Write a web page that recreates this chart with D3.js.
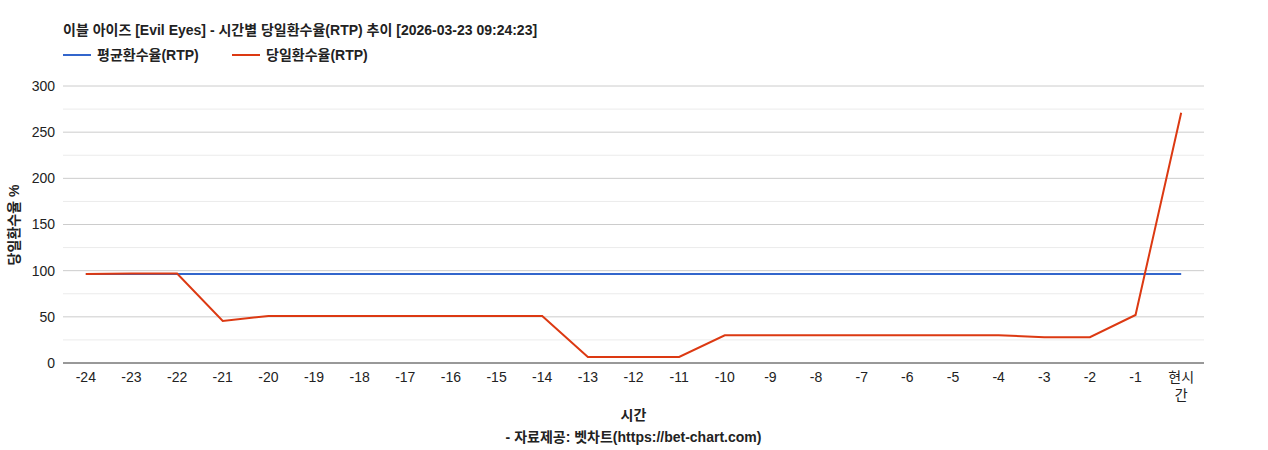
<!DOCTYPE html>
<html>
<head>
<meta charset="utf-8" />
<title>RTP chart</title>
<style>
body { margin: 0; background: #fff; }
text { font-family: Arial, "Liberation Sans", "Noto Sans CJK KR", sans-serif; }
</style>
</head>
<body>
<div id="graph"></div>
<script src="https://d3js.org/d3.v7.min.js"></script>
<script>
var categories = ["-24","-23","-22","-21","-20","-19","-18","-17","-16","-15","-14","-13","-12","-11","-10","-9","-8","-7","-6","-5","-4","-3","-2","-1","현시간"];
var avgRtp = [96.5,96.5,96.5,96.5,96.5,96.5,96.5,96.5,96.5,96.5,96.5,96.5,96.5,96.5,96.5,96.5,96.5,96.5,96.5,96.5,96.5,96.5,96.5,96.5,96.5];
var dayRtp = [96.5,97,97,45.5,51,51,51,51,51,51,51,6.5,6.5,6.5,30,30,30,30,30,30,30,28,28,52,271];
var yTicks = [0,50,100,150,200,250,300];
var seriesNames = ["평균환수율(RTP)", "당일환수율(RTP)"];
var colors = ["#3366cc", "#dc3912"];

var width = 1268, height = 450;
var margin = {top: 86, left: 63, right: 64, bottom: 87};
var cw = width - margin.left - margin.right, ch = height - margin.top - margin.bottom;

var svg = d3.select("#graph").append("svg").attr("width", width).attr("height", height);
var g = svg.append("g").attr("transform", "translate(" + [margin.left, margin.top] + ")");

var x = d3.scalePoint().domain(categories).range([0, cw]).padding(0.5);
var y = d3.scaleLinear().domain([0, 300]).range([ch, 0]);

// minor + major grid
d3.range(25, 300, 50).forEach(function(v) {
    g.append("line").attr("x1", 0).attr("x2", cw).attr("y1", y(v)).attr("y2", y(v)).attr("stroke", "#ebebeb");
});
yTicks.forEach(function(v) {
    g.append("line").attr("x1", 0).attr("x2", cw).attr("y1", y(v)).attr("y2", y(v)).attr("stroke", v === 0 ? "#333" : "#cccccc");
    g.append("text").attr("x", -8).attr("y", y(v)).attr("dy", "0.35em").attr("text-anchor", "end")
        .attr("font-size", 14).attr("fill", "#222").text(v);
});

categories.forEach(function(c) {
    var t = g.append("text").attr("x", x(c)).attr("y", ch + 19).attr("text-anchor", "middle")
        .attr("font-size", 14).attr("fill", "#222");
    if (c === "현시간") {
        t.append("tspan").attr("x", x(c)).text("현시");
        t.append("tspan").attr("x", x(c)).attr("dy", 18).text("간");
    } else t.text(c);
});

var line = d3.line().x(function(d, i) { return x(categories[i]); }).y(function(d) { return y(d); });
[avgRtp, dayRtp].forEach(function(s, i) {
    g.append("path").datum(s).attr("d", line).attr("fill", "none").attr("stroke", colors[i]).attr("stroke-width", 2);
});

svg.append("text").attr("x", 63).attr("y", 35).attr("font-size", 14).attr("font-weight", "bold").attr("fill", "#222")
    .text("이블 아이즈 [Evil Eyes] - 시간별 당일환수율(RTP) 추이 [2026-03-23 09:24:23]");

var lx = [63, 232];
seriesNames.forEach(function(n, i) {
    svg.append("line").attr("x1", lx[i]).attr("x2", lx[i] + 28).attr("y1", 55).attr("y2", 55).attr("stroke", colors[i]).attr("stroke-width", 2);
    svg.append("text").attr("x", lx[i] + 34).attr("y", 60).attr("font-size", 14).attr("font-weight", "bold").attr("fill", "#222").text(n);
});

svg.append("text").attr("transform", "translate(19,225) rotate(-90)")
    .attr("text-anchor", "middle").attr("font-size", 14).attr("font-weight", "bold").attr("fill", "#222").text("당일환수율 %");
svg.append("text").attr("x", margin.left + cw / 2).attr("y", 420).attr("text-anchor", "middle")
    .attr("font-size", 14).attr("font-weight", "bold").attr("fill", "#222").text("시간");
svg.append("text").attr("x", margin.left + cw / 2).attr("y", 442).attr("text-anchor", "middle")
    .attr("font-size", 14).attr("font-weight", "bold").attr("fill", "#222").text("- 자료제공: 벳차트(https://bet-chart.com)");
</script>
</body>
</html>
